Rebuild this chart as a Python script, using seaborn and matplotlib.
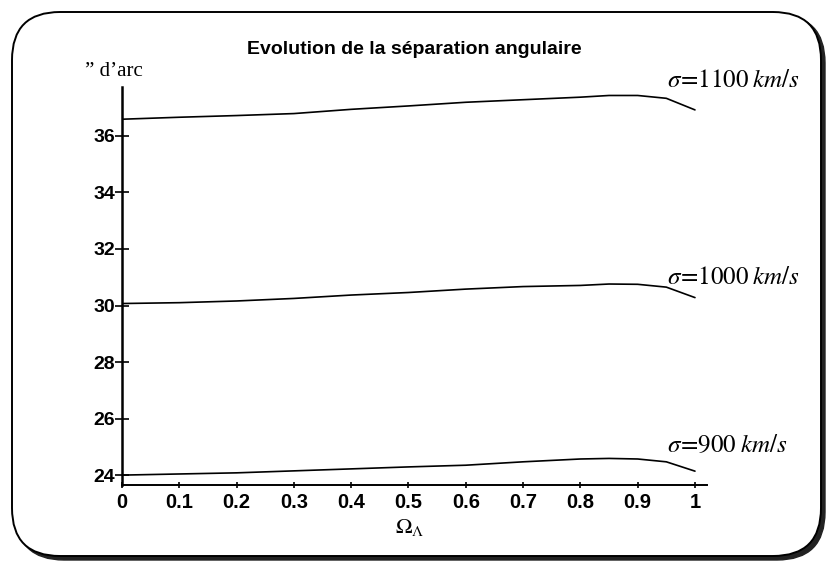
import numpy as np
import pandas as pd
import matplotlib
matplotlib.use("Agg")
import matplotlib.pyplot as plt
import seaborn as sns
from matplotlib.patches import FancyBboxPatch

# ---- data ----
omega = [0.0, 0.1, 0.2, 0.3, 0.4, 0.5, 0.6, 0.7, 0.8, 0.85, 0.9, 0.95, 1.0]
sep_1100 = [36.59, 36.66, 36.72, 36.79, 36.94, 37.06, 37.19, 37.28, 37.37, 37.43, 37.43, 37.33, 36.92]
sep_1000 = [30.07, 30.10, 30.16, 30.25, 30.37, 30.46, 30.58, 30.67, 30.71, 30.76, 30.75, 30.65, 30.28]
sep_900 = [24.00, 24.04, 24.08, 24.15, 24.22, 24.29, 24.35, 24.47, 24.57, 24.59, 24.57, 24.47, 24.14]
sigmas = ["1100", "1000", "900"]
y_ticks = [24, 26, 28, 30, 32, 34, 36]
x_ticks = [0, 0.1, 0.2, 0.3, 0.4, 0.5, 0.6, 0.7, 0.8, 0.9, 1]
x_tick_labels = ["0", "0.1", "0.2", "0.3", "0.4", "0.5", "0.6", "0.7", "0.8", "0.9", "1"]
title = "Evolution de la séparation angulaire"
y_label = "\u201d d\u2019arc"

df = pd.concat([
    pd.DataFrame({"omega": omega, "sep": sep_1100, "sigma": sigmas[0]}),
    pd.DataFrame({"omega": omega, "sep": sep_1000, "sigma": sigmas[1]}),
    pd.DataFrame({"omega": omega, "sep": sep_900, "sigma": sigmas[2]}),
], ignore_index=True)

sns.set_theme(style="white")
plt.rcParams["font.family"] = ["Liberation Sans", "DejaVu Sans"]
plt.rcParams["mathtext.fontset"] = "stix"

W, H = 828, 564
fig = plt.figure(figsize=(W / 100, H / 100), dpi=100)
fig.patch.set_facecolor("white")

# background axes in pixel coordinates for the rounded frame and texts
bg = fig.add_axes([0, 0, 1, 1], zorder=0)
bg.set_xlim(0, W)
bg.set_ylim(H, 0)
bg.axis("off")

# shadow + frame
shadow = FancyBboxPatch((16, 15), 809, 545, boxstyle="round,pad=0,rounding_size=48",
                        facecolor="#222222", edgecolor="#222222", lw=1.0)
bg.add_patch(shadow)
frame = FancyBboxPatch((12, 12), 809, 544, boxstyle="round,pad=0,rounding_size=48",
                       facecolor="white", edgecolor="black", lw=1.4)
bg.add_patch(frame)

# main axes
left, right, top, bottom = 122, 707, 87, 485
ax = fig.add_axes([left / W, 1 - bottom / H, (right - left) / W, (bottom - top) / H], zorder=2)
ax.patch.set_alpha(0)

sns.lineplot(data=df, x="omega", y="sep", hue="sigma", palette=["black"] * 3,
             legend=False, ax=ax, linewidth=1.2)

ax.set_xlim(0, 1.021)
ax.set_ylim(23.65, 37.73)
ax.set_xticks(x_ticks)
ax.set_xticklabels(x_tick_labels)
ax.set_yticks(y_ticks)
ax.set_xlabel("")
ax.set_ylabel("")
for s in ["top", "right"]:
    ax.spines[s].set_visible(False)
ax.spines["left"].set_linewidth(1.8)
ax.spines["bottom"].set_linewidth(1.4)
ax.spines["left"].set_color("black")
ax.spines["bottom"].set_color("black")
ax.tick_params(axis="y", direction="inout", length=10, width=1.2, pad=0,
               labelsize=14, colors="black", left=True)
ax.tick_params(axis="x", direction="inout", length=5, width=1.2, pad=3,
               labelsize=14.5, colors="black", bottom=True)
for lab in ax.get_xticklabels() + ax.get_yticklabels():
    lab.set_fontweight("bold")

# texts
bg.text(414, 49, title, ha="center", va="center", fontsize=14, fontweight="bold",
        color="black", zorder=3)
bg.text(85, 72, y_label, ha="left", va="center", fontsize=15,
        family=["Liberation Serif", "DejaVu Serif"], color="black", zorder=3)
label_y = {"1100": 80, "1000": 277, "900": 445}
for s in sigmas:
    bg.text(667, label_y[s], r"$\sigma\!=\!%s\;km/s$" % s, ha="left", va="center",
            fontsize=18, color="black", zorder=3)
bg.text(410, 527, r"$\Omega_\Lambda$", ha="center", va="center", fontsize=16,
        color="black", zorder=3)

fig.savefig("out.png", dpi=100, facecolor="white")
